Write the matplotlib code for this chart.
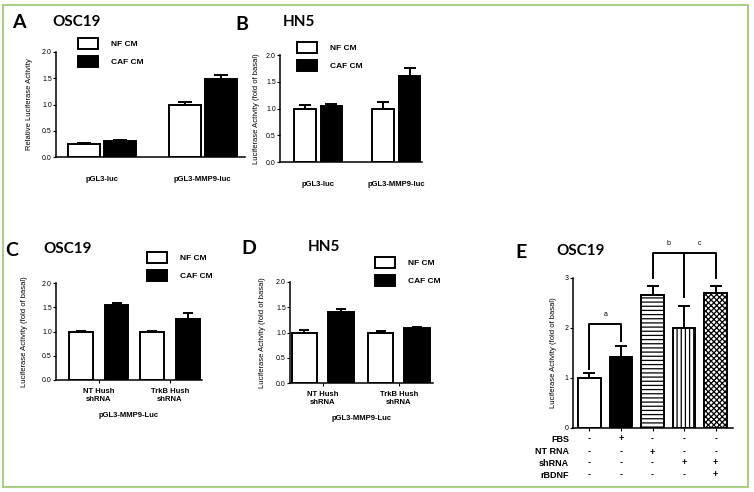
import numpy as np
import matplotlib
matplotlib.use('Agg')
import matplotlib.pyplot as plt
from matplotlib.patches import Rectangle
from matplotlib.transforms import blended_transform_factory

plt.rcParams['font.family'] = ['Liberation Sans', 'DejaVu Sans']
plt.rcParams['hatch.linewidth'] = 0.9

W, H = 754, 492

# ---- data ----
ab_groups = ['pGL3-luc', 'pGL3-MMP9-luc']
a_nf = [0.25, 1.00]
a_nf_err = [0.02, 0.04]
a_caf = [0.31, 1.49]
a_caf_err = [0.02, 0.07]

b_nf = [1.00, 1.00]
b_nf_err = [0.07, 0.13]
b_caf = [1.04, 1.60]
b_caf_err = [0.04, 0.16]

cd_groups = ['NT Hush\nshRNA', 'TrkB Hush\nshRNA']
c_nf = [1.00, 1.00]
c_nf_err = [0.02, 0.02]
c_caf = [1.54, 1.26]
c_caf_err = [0.04, 0.12]

d_nf = [1.00, 1.00]
d_nf_err = [0.04, 0.02]
d_caf = [1.40, 1.08]
d_caf_err = [0.07, 0.02]

e_vals = [1.00, 1.42, 2.67, 2.00, 2.70]
e_err = [0.10, 0.23, 0.18, 0.45, 0.15]
e_rows = ['FBS', 'NT RNA', 'shRNA', 'rBDNF']
e_signs = [['-', '+', '-', '-', '-'],
           ['-', '-', '+', '-', '-'],
           ['-', '-', '-', '+', '+'],
           ['-', '-', '-', '-', '+']]
e_hatch = [None, None, '----', '||||', 'xxxxxx']
e_fill = ['white', 'black', 'white', 'white', 'white']


fig = plt.figure(figsize=(W / 100, H / 100), dpi=100)


def px_axes(l, r, t, b):
    return fig.add_axes([l / W, 1 - b / H, (r - l) / W, (b - t) / H])


def fig_text(x, y, s, **kw):
    fig.text(x / W, 1 - y / H, s, **kw)


def style(ax, ymax, step, fmt='%.1f'):
    for s in ('top', 'right'):
        ax.spines[s].set_visible(False)
    for s in ('left', 'bottom'):
        ax.spines[s].set_linewidth(1.1)
    ax.set_ylim(0, ymax)
    ticks = np.arange(0, ymax + 1e-9, step)
    ax.set_yticks(ticks)
    ax.set_yticklabels([fmt % t for t in ticks])
    ax.tick_params(axis='y', direction='out', length=2, width=0.8, labelsize=5, pad=1)
    ax.tick_params(axis='x', direction='out', length=2, width=0.8, pad=4)


def paired(ax, groups, nf, nf_err, caf, caf_err, off, width, xlim, capsize):
    x = np.arange(len(groups))
    h1 = ax.bar(x - off, nf, width, color='white', edgecolor='black', linewidth=1.4, label='NF CM')
    h2 = ax.bar(x + off, caf, width, color='black', edgecolor='black', linewidth=1.4, label='CAF CM')
    ax.errorbar(x - off, nf, yerr=[np.zeros(len(nf)), nf_err], fmt='none', ecolor='black',
                elinewidth=1.4, capsize=capsize, capthick=1.4)
    ax.errorbar(x + off, caf, yerr=[np.zeros(len(caf)), caf_err], fmt='none', ecolor='black',
                elinewidth=1.4, capsize=capsize, capthick=1.4)
    ax.set_xlim(*xlim)
    ax.set_xticks(x)
    return h1, h2


def legend(ax, handles, x, y):
    ax.legend(handles=list(handles), loc='upper left', bbox_to_anchor=(x / W, 1 - y / H),
              bbox_transform=fig.transFigure, frameon=False, borderpad=0, borderaxespad=0,
              handlelength=2.4, handleheight=1.7, handletextpad=1.6, labelspacing=0.75,
              prop={'size': 6, 'weight': 'bold'})


title_font = dict(family=['Lato', 'DejaVu Sans'], weight='bold', va='center')

# ---- A ----
axA = px_axes(56, 245, 52, 157)
hA = paired(axA, ab_groups, a_nf, a_nf_err, a_caf, a_caf_err, 0.18, 0.32, (-0.46, 1.42), 5)
style(axA, 2.0, 0.5)
axA.set_xticklabels(ab_groups, fontsize=5.5, fontweight='bold')
axA.tick_params(axis='x', length=0, pad=14)
axA.set_ylabel('Relative Luciferase Activity', fontsize=5.5)
axA.yaxis.set_label_coords(-0.12, 0.5)
legend(axA, hA, 78, 38)
fig_text(12, 22, 'A', fontsize=14, **title_font)
fig_text(52, 22, 'OSC19', fontsize=11, **title_font)

# ---- B ----
axB = px_axes(280, 422, 55, 162)
hB = paired(axB, ab_groups, b_nf, b_nf_err, b_caf, b_caf_err, 0.17, 0.27, (-0.49, 1.33), 4)
style(axB, 2.0, 0.5)
axB.set_xticklabels(ab_groups, fontsize=5.5, fontweight='bold')
axB.tick_params(axis='x', length=0, pad=14)
axB.set_ylabel('Luciferase Activity (fold of basal)', fontsize=5.5)
axB.yaxis.set_label_coords(-0.14, 0.5)
legend(axB, hB, 297, 42)
fig_text(235, 25, 'B', fontsize=14, **title_font)
fig_text(283, 22, 'HN5', fontsize=11, **title_font)

# ---- C ----
axC = px_axes(56, 202, 283, 380)
hC = paired(axC, cd_groups, c_nf, c_nf_err, c_caf, c_caf_err, 0.25, 0.33, (-0.6, 1.45), 3.5)
style(axC, 2.0, 0.5)
axC.set_xticklabels(cd_groups, fontsize=5.5, fontweight='bold', linespacing=1.2)
axC.set_xlabel('pGL3-MMP9-Luc', fontsize=5.5, fontweight='bold', labelpad=6)
axC.set_ylabel('Luciferase Activity (fold of basal)', fontsize=5.5)
axC.yaxis.set_label_coords(-0.19, 0.5)
legend(axC, hC, 147, 252)
fig_text(5, 251, 'C', fontsize=14, **title_font)
fig_text(43, 249, 'OSC19', fontsize=11, **title_font)

# ---- D ----
axD = px_axes(290, 433, 282, 383)
hD = paired(axD, cd_groups, d_nf, d_nf_err, d_caf, d_caf_err, 0.24, 0.34, (-0.43, 1.45), 3.5)
style(axD, 2.0, 0.5)
axD.set_xticklabels(cd_groups, fontsize=5.5, fontweight='bold', linespacing=1.2)
axD.set_xlabel('pGL3-MMP9-Luc', fontsize=5.5, fontweight='bold', labelpad=6)
axD.set_ylabel('Luciferase Activity (fold of basal)', fontsize=5.5)
axD.yaxis.set_label_coords(-0.17, 0.5)
legend(axD, hD, 375, 257)
fig_text(241, 249, 'D', fontsize=14, **title_font)
fig_text(308, 247, 'HN5', fontsize=11, **title_font)

# ---- E ----
axE = px_axes(573, 733, 278, 428)
xe = np.arange(len(e_vals))
for xi, v, fc, hatch in zip(xe, e_vals, e_fill, e_hatch):
    axE.bar(xi, v, 0.72, color=fc, edgecolor='black', linewidth=1.4, hatch=hatch)
axE.errorbar(xe, e_vals, yerr=[np.zeros(len(e_vals)), e_err], fmt='none', ecolor='black',
             elinewidth=1.4, capsize=4, capthick=1.4)
axE.set_xlim(-0.52, 4.55)
style(axE, 3, 1, '%d')
axE.set_xticks(xe)
axE.set_xticklabels([])
axE.set_ylabel('Luciferase Activity (fold of basal)', fontsize=5.5)
axE.yaxis.set_label_coords(-0.1, 0.5)

# significance brackets
br_kw = dict(color='black', lw=1.4, clip_on=False)
axE.plot([0, 0, 1, 1], [1.18, 2.09, 2.09, 1.74], **br_kw)
axE.text(0.5, 2.2, 'a', fontsize=5, ha='center', va='bottom')
axE.plot([2, 2, 4, 4], [3.0, 3.5, 3.5, 3.0], **br_kw)
axE.plot([3, 3], [3.5, 2.62], **br_kw)
axE.text(2.5, 3.62, 'b', fontsize=5, ha='center', va='bottom')
axE.text(3.5, 3.62, 'c', fontsize=5, ha='center', va='bottom')

# condition table under E
tr = blended_transform_factory(axE.transData, axE.transAxes)
row_y = [439, 452, 463, 475]
for lab, signs, ypx in zip(e_rows, e_signs, row_y):
    yy = (428 - ypx) / 150.0
    axE.text(-0.025, yy, lab, transform=axE.transAxes, ha='right', va='center',
             fontsize=6.5, fontweight='bold')
    for xi, s in zip(xe, signs):
        axE.text(xi, yy, s, transform=tr, ha='center', va='center', fontsize=6.5, fontweight='bold')

fig_text(515, 252, 'E', fontsize=14, **title_font)
fig_text(556, 251, 'OSC19', fontsize=11, **title_font)

# green frame
fig.patches.append(Rectangle((3 / W, 1 - 487 / H), 745 / W, 482 / H, transform=fig.transFigure,
                             fill=False, edgecolor='#a9cf85', linewidth=1.5))

fig.savefig('out.png', dpi=100)
